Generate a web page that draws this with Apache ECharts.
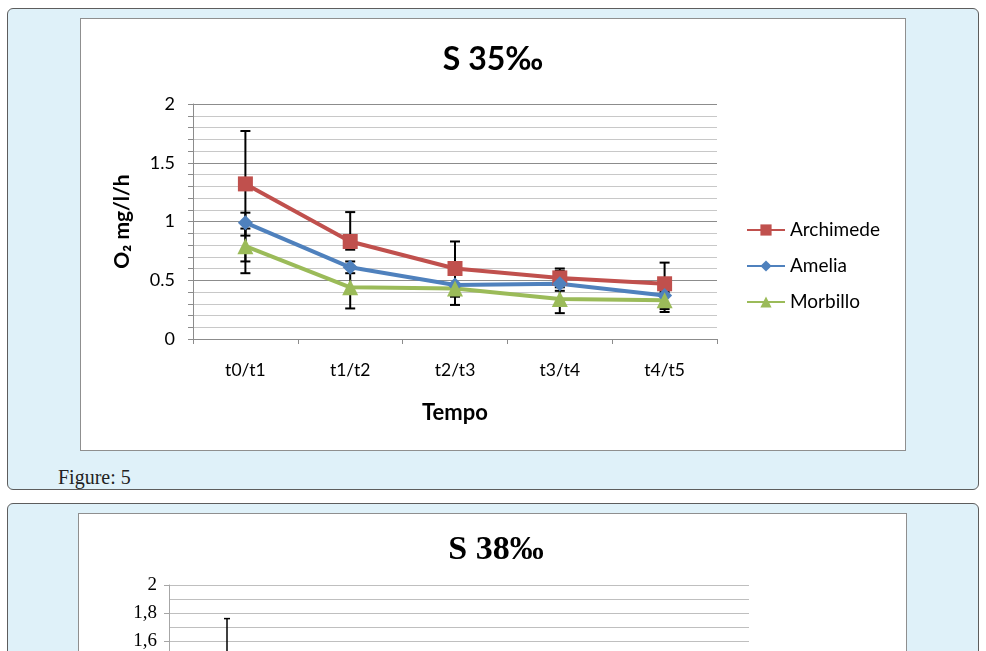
<!DOCTYPE html>
<html>
<head>
<meta charset="utf-8">
<script src="https://cdn.jsdelivr.net/npm/echarts@6/dist/echarts.min.js"></script>
<style>
  body { margin: 0; width: 986px; height: 651px; overflow: hidden; background: #fff; position: relative; }
  .panel { position: absolute; left: 7px; width: 972px; box-sizing: border-box; border: 1px solid #5d5d5d; border-radius: 6px; background: #dff1f9; }
  .box { position: absolute; background: #fff; border: 1px solid #8f8f8f; box-sizing: border-box; }
  .caption { position: absolute; left: 58px; top: 466px; font-family: 'Liberation Serif', serif; font-size: 20px; color: #222; }
  .echart { width: 100%; height: 100%; }
</style>
</head>
<body>
  <div class="panel" style="top:8px;height:482px"></div>
  <div class="box" style="left:80px;top:18px;width:826px;height:433px"><div id="chart1" class="echart"></div></div>
  <div class="caption">Figure: 5</div>
  <div class="panel" style="top:503px;height:400px"></div>
  <div class="box" style="left:78px;top:513px;width:829px;height:420px"><div id="chart2" class="echart"></div></div>
<script>
// S 35‰
const categories = ['t0/t1', 't1/t2', 't2/t3', 't3/t4', 't4/t5']
const archimede = [1.32, 0.83, 0.60, 0.52, 0.47]
const amelia = [0.99, 0.61, 0.46, 0.47, 0.37]
const morbillo = [0.79, 0.44, 0.43, 0.34, 0.33]
// error bars: lower / upper ends
const archimedeLow = [0.88, 0.76, 0.37, 0.44, 0.29]
const archimedeHigh = [1.77, 1.08, 0.83, 0.60, 0.65]
const ameliaLow = [0.56, 0.56, 0.36, 0.41, 0.255]
const ameliaHigh = [1.075, 0.66, 0.55, 0.58, 0.40]
const morbilloLow = [0.66, 0.26, 0.29, 0.22, 0.23]
const morbilloHigh = [0.94, 0.62, 0.58, 0.46, 0.44]

// S 38‰ (only the top of the chart is in view)
const categories38 = ['t0/t1', 't1/t2', 't2/t3', 't3/t4', 't4/t5']
const s38Low = [1.1]
const s38High = [1.76]

const sansFont = 'Lato, "Open Sans", sans-serif'
const serifFont = '"Liberation Serif", "DejaVu Serif", serif'

function errorBars(low, high, capWidth, lineWidth) {
  return {
    type: 'custom',
    z: 1,
    silent: true,
    renderItem: function(params, api) {
      const top = api.coord([api.value(0), api.value(2)])
      const bottom = api.coord([api.value(0), api.value(1)])
      const w = capWidth
      const style = { stroke: '#000', lineWidth: lineWidth }
      return {
        type: 'group',
        children: [
          { type: 'line', shape: { x1: top[0], y1: top[1], x2: bottom[0], y2: bottom[1] }, style: style },
          { type: 'line', shape: { x1: top[0] - w, y1: top[1], x2: top[0] + w, y2: top[1] }, style: style },
          { type: 'line', shape: { x1: bottom[0] - w, y1: bottom[1], x2: bottom[0] + w, y2: bottom[1] }, style: style }
        ]
      }
    },
    data: low.map((v, i) => [i, v, high[i]])
  }
}

function lineSeries(name, data, color, symbol) {
  return {
    name: name,
    type: 'line',
    z: 3,
    data: data,
    symbol: symbol,
    symbolSize: symbol === 'triangle' ? 16 : 15,
    lineStyle: { width: 4, color: color },
    itemStyle: { color: color }
  }
}

const chart1 = echarts.init(document.getElementById('chart1'))
chart1.setOption({
  animation: false,
  textStyle: { fontFamily: sansFont },
  title: {
    text: 'S 35‰',
    left: 'center',
    top: 20,
    textStyle: { fontFamily: sansFont, fontSize: 32, fontWeight: 'bold', color: '#000' }
  },
  legend: {
    orient: 'vertical',
    left: 660,
    top: 196,
    itemWidth: 38,
    itemHeight: 14,
    itemGap: 16,
    textStyle: { fontFamily: sansFont, fontSize: 19, lineHeight: 20, color: '#000', padding: [0, 0, 0, 0] },
    data: ['Archimede', 'Amelia', 'Morbillo']
  },
  grid: { left: 112, top: 85, width: 524, height: 235 },
  xAxis: {
    type: 'category',
    data: categories,
    boundaryGap: true,
    name: 'Tempo',
    nameLocation: 'middle',
    nameGap: 63,
    nameTextStyle: { fontFamily: sansFont, fontSize: 22, fontWeight: 'bold', color: '#000' },
    axisLine: { lineStyle: { color: '#8c8c8c' } },
    axisTick: { show: true, length: 5, lineStyle: { color: '#8c8c8c' } },
    axisLabel: { margin: 22, fontSize: 17.5, color: '#000', fontFamily: sansFont }
  },
  yAxis: {
    type: 'value',
    min: 0,
    max: 2,
    interval: 0.5,
    name: 'O₂ mg/l/h',
    nameLocation: 'middle',
    nameGap: 60,
    nameTextStyle: { fontFamily: sansFont, fontSize: 21, fontWeight: 'bold', color: '#000' },
    axisLine: { show: true, lineStyle: { color: '#8c8c8c' } },
    axisTick: { show: true, length: 5, lineStyle: { color: '#8c8c8c' } },
    minorTick: { show: true, splitNumber: 5, length: 5, lineStyle: { color: '#8c8c8c' } },
    axisLabel: { margin: 18, fontSize: 18, color: '#000', fontFamily: sansFont },
    splitLine: { lineStyle: { color: '#8c8c8c' } },
    minorSplitLine: { show: true, lineStyle: { color: '#c8c8c8' } }
  },
  series: [
    lineSeries('Archimede', archimede, '#c0504d', 'rect'),
    lineSeries('Amelia', amelia, '#4f81bd', 'diamond'),
    lineSeries('Morbillo', morbillo, '#9bbb59', 'triangle'),
    errorBars(archimedeLow, archimedeHigh, 5, 2),
    errorBars(ameliaLow, ameliaHigh, 5, 2),
    errorBars(morbilloLow, morbilloHigh, 5, 2)
  ]
})

const chart2 = echarts.init(document.getElementById('chart2'))
chart2.setOption({
  animation: false,
  title: {
    text: 'S 38‰',
    left: 412,
    textAlign: 'center',
    top: 14,
    textStyle: { fontFamily: serifFont, fontSize: 34, fontWeight: 'bold', color: '#000' }
  },
  grid: { left: 90, top: 71, width: 580, height: 280 },
  xAxis: {
    type: 'category',
    data: categories38,
    axisLine: { lineStyle: { color: '#a6a6a6' } },
    axisLabel: { fontFamily: serifFont }
  },
  yAxis: {
    type: 'value',
    min: 0,
    max: 2,
    interval: 0.2,
    axisLine: { show: true, lineStyle: { color: '#a6a6a6' } },
    axisTick: { show: true, length: 5, lineStyle: { color: '#a6a6a6' } },
    axisLabel: {
      margin: 12,
      fontSize: 19,
      color: '#000',
      fontFamily: serifFont,
      formatter: v => String(+v.toFixed(1)).replace('.', ',')
    },
    splitLine: { lineStyle: { color: '#bfbfbf' } },
    minorSplitLine: { show: true, lineStyle: { color: '#bfbfbf' } },
    minorTick: { show: false, splitNumber: 2 }
  },
  series: [
    errorBars(s38Low, s38High, 3, 1.5)
  ]
})
</script>
</body>
</html>
